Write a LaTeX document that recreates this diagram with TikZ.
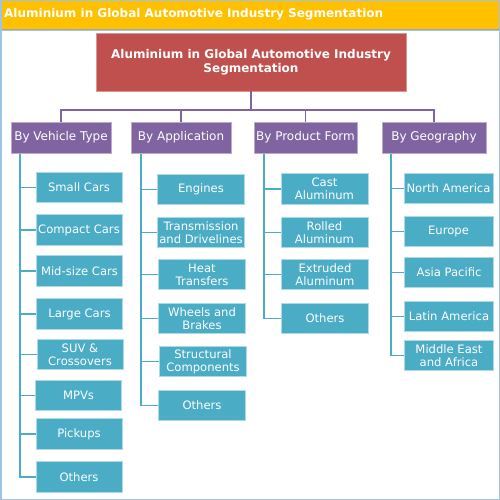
\documentclass[tikz,border=0pt]{standalone}
\usepackage{fontspec}
\setmainfont{DejaVu Sans}
\definecolor{hdr}{HTML}{FFC000}
\definecolor{redc}{HTML}{C0504D}
\definecolor{catc}{HTML}{8064A2}
\definecolor{leafc}{HTML}{4BACC6}
\definecolor{bordc}{HTML}{9DC3E6}
\begin{document}
\begin{tikzpicture}[x=1pt,y=-1pt,
  cat/.style={fill=catc, draw=catc!55!white, line width=0.6pt, text=white, minimum width=100pt, minimum height=31pt, inner sep=0pt, font=\fontsize{12}{14}\selectfont, align=center},
  leaf/.style={fill=leafc, draw=leafc!45!white, line width=0.6pt, text=white, minimum height=30.5pt, inner sep=0pt, font=\fontsize{11.6}{13}\selectfont, align=center},
  l1/.style={leaf, minimum width=86pt},
  l2/.style={leaf, minimum width=87pt},
  l3/.style={leaf, minimum width=87pt},
  l4/.style={leaf, minimum width=89pt},
  catline/.style={draw=catc, line width=1.5pt},
  leafline/.style={draw=leafc, line width=1.5pt}]
\useasboundingbox (0,0) rectangle (500,500);
\fill[white] (0,0) rectangle (500,500);
\fill[hdr] (1,1) rectangle (499,29);
\draw[black!35, line width=0.8pt] (1,29.4) -- (499,29.4);
\draw[bordc, line width=1pt] (1,30.5) -- (499,30.5);
\node[anchor=west, text=white, font=\bfseries\fontsize{12}{14}\selectfont, inner sep=0pt] (title) at (4,14.5) {Aluminium in Global Automotive Industry Segmentation};
\draw[bordc, line width=1.5pt] (0.75,0.75) rectangle (499.25,499.25);

% top box
\node[fill=redc, draw=redc!60!white, line width=0.6pt, text=white, minimum width=310pt, minimum height=58pt, inner sep=0pt, align=center, font=\bfseries\fontsize{12}{14}\selectfont] (top) at (251,62) {Aluminium in Global Automotive Industry\\Segmentation};

% categories
\node[cat] (vt) at (61,137.5) {By Vehicle Type};
\node[cat] (ap) at (181,137.5) {By Application};
\node[cat, minimum width=103pt] (pf) at (305.5,137.5) {By Product Form};
\node[cat, minimum width=104pt] (geo) at (434,137.5) {By Geography};

\coordinate (hub) at (251,110);
\draw[catline] (top.south) -- (hub);
\draw[catline] (hub) -| (vt.north);
\draw[catline] (hub) -| (ap.north);
\draw[catline] (hub) -| (pf.north);
\draw[catline] (hub) -| (geo.north);

% column 1
\node[l1] (a1) at (79,187.5) {Small Cars};
\node[l1] (a2) at (79,230) {Compact Cars};
\node[l1] (a3) at (79.5,271) {Mid-size Cars};
\node[l1] (a4) at (79.5,314) {Large Cars};
\node[l1] (a5) at (80,354.5) {SUV \&\\Crossovers};
\node[l1] (a6) at (78.5,395.5) {MPVs};
\node[l1] (a7) at (79,434) {Pickups};
\node[l1] (a8) at (79,477) {Others};
\coordinate (t1) at (20,154);
\foreach \n in {a1,a2,a3,a4,a5,a6,a7,a8} \draw[leafline] (t1) |- (\n.west);

% column 2
\node[l2] (b1) at (201,189.5) {Engines};
\node[l2] (b2) at (201,232.5) {Transmission\\and Drivelines};
\node[l2] (b3) at (202,274.5) {Heat\\Transfers};
\node[l2] (b4) at (202,318.5) {Wheels and\\Brakes};
\node[l2] (b5) at (203,361.5) {Structural\\Components};
\node[l2] (b6) at (202,405.5) {Others};
\coordinate (t2) at (141,154);
\foreach \n in {b1,b2,b3,b4,b5,b6} \draw[leafline] (t2) |- (\n.west);

% column 3
\node[l3] (c1) at (324.5,189) {Cast\\Aluminum};
\node[l3] (c2) at (324.5,232.5) {Rolled\\Aluminum};
\node[l3] (c3) at (325,274.5) {Extruded\\Aluminum};
\node[l3] (c4) at (325,318.5) {Others};
\coordinate (t3) at (264,154);
\foreach \n in {c1,c2,c3,c4} \draw[leafline] (t3) |- (\n.west);

% column 4
\node[l4] (d1) at (448.5,188.5) {North America};
\node[l4] (d2) at (448.5,231.5) {Europe};
\node[l4] (d3) at (449,272.5) {Asia Pacific};
\node[l4] (d4) at (449,316.5) {Latin America};
\node[l4] (d5) at (449,355.5) {Middle East\\and Africa};
\coordinate (t4) at (391,154);
\foreach \n in {d1,d2,d3,d4,d5} \draw[leafline] (t4) |- (\n.west);
\end{tikzpicture}
\end{document}
